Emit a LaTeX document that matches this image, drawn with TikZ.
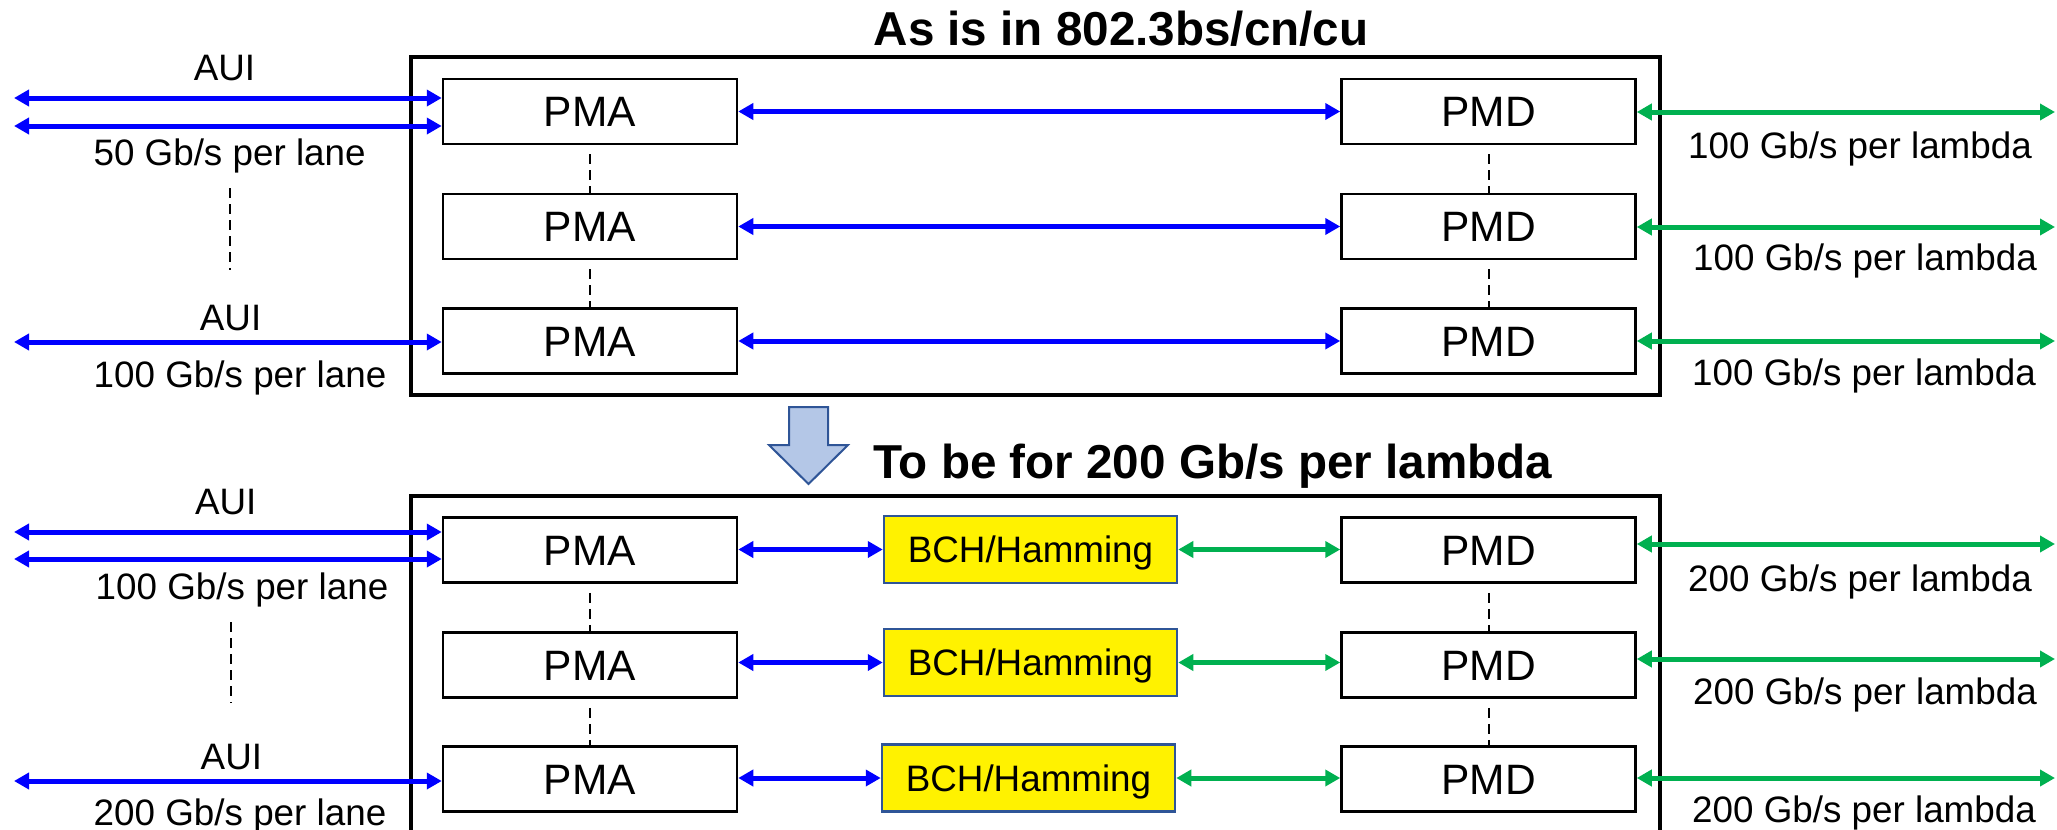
\documentclass[tikz,border=0pt]{standalone}
\usepackage{fontspec}
\setmainfont{Liberation Sans}
\usetikzlibrary{arrows.meta}
\definecolor{myblue}{RGB}{0,0,255}
\definecolor{mygreen}{RGB}{0,176,80}
\definecolor{bchborder}{RGB}{47,85,151}
\definecolor{arrowfill}{RGB}{180,199,231}
\begin{document}
\begin{tikzpicture}[x=1pt,y=-1pt,
  blk/.style={draw=black,line width=2.5pt,minimum width=294pt,minimum height=65pt,inner sep=0pt,
    font=\fontsize{42.5}{50}\selectfont,text height=30.4pt,text depth=0pt},
  bch/.style={draw=bchborder,fill=yellow,line width=2.5pt,minimum width=293pt,minimum height=67pt,inner sep=0pt,
    font=\fontsize{36.8}{44}\selectfont,text height=26.3pt,text depth=0pt},
  frame/.style={draw=black,line width=3.5pt},
  lbl/.style={font=\fontsize{36.8}{44}\selectfont,anchor=base,inner sep=0pt},
  ttl/.style={font=\bfseries\fontsize{47.6}{56}\selectfont,anchor=base,inner sep=0pt},
  barrow/.style={draw=myblue,line width=5pt,{Triangle[length=15pt,width=16pt]}-{Triangle[length=15pt,width=16pt]}},
  garrow/.style={draw=mygreen,line width=5pt,{Triangle[length=15pt,width=16pt]}-{Triangle[length=15pt,width=16pt]}},
  vdash/.style={draw=black,line width=2pt,dash pattern=on 10pt off 6pt},
]
\useasboundingbox (0,0) rectangle (2057,830);

% ---------- top section ----------
\node[ttl] (t1) at (1121,45) {As is in 802.3bs/cn/cu};
\node[frame,minimum width=1249pt,minimum height=338pt,inner sep=0pt] (outer1) at (1035.5,226) {};

\node[blk] (pma1) at (590,111.5) {PMA};
\node[blk] (pma2) at (590,226.5) {PMA};
\node[blk] (pma3) at (590,341) {PMA};
\node[blk] (pmd1) at (1488.5,111.5) {PMD};
\node[blk] (pmd2) at (1488.5,226.5) {PMD};
\node[blk] (pmd3) at (1488.5,341) {PMD};

\draw[vdash] ([yshift=-9pt]pma1.south) -- (pma2.north);
\draw[vdash] ([yshift=-9pt]pma2.south) -- (pma3.north);
\draw[vdash] ([yshift=-9pt]pmd1.south) -- (pmd2.north);
\draw[vdash] ([yshift=-9pt]pmd2.south) -- (pmd3.north);

\draw[barrow] (pma1.east) -- (pmd1.west);
\draw[barrow] (pma2.east) -- (pmd2.west);
\draw[barrow] (pma3.east) -- (pmd3.west);

\coordinate (la1) at (14,98);
\coordinate (la2) at (14,126);
\coordinate (la3) at (14,342);
\draw[barrow] (la1) -- (la1 -| pma1.west);
\draw[barrow] (la2) -- (la2 -| pma1.west);
\draw[barrow] (la3) -- (la3 -| pma3.west);

\node[lbl] (aui1) at (224.5,80) {AUI};
\node[lbl] (r50) at (229.6,165) {50 Gb/s per lane};
\coordinate (d1a) at (229.6,188);
\coordinate (d1b) at (229.6,270);
\draw[vdash] (d1a) -- (d1b);
\node[lbl] (aui2) at (230.6,330) {AUI};
\node[lbl] (r100) at (240,387) {100 Gb/s per lane};

\coordinate (rg1) at (2055,112);
\coordinate (rg2) at (2055,227);
\coordinate (rg3) at (2055,341);
\draw[garrow] (pmd1.east |- rg1) -- (rg1);
\draw[garrow] (pmd2.east |- rg2) -- (rg2);
\draw[garrow] (pmd3.east |- rg3) -- (rg3);
\node[lbl] (l1) at (1860,158) {100 Gb/s per lambda};
\node[lbl] (l2) at (1865,270) {100 Gb/s per lambda};
\node[lbl] (l3) at (1864,385) {100 Gb/s per lambda};

% ---------- transition arrow ----------
\draw[fill=arrowfill,draw=bchborder,line width=2pt,line join=miter]
  (789,407) -- (828,407) -- (828,445) -- (848,445) -- (808.5,484) -- (769,445) -- (789,445) -- cycle;
\node[ttl,anchor=base west] (t2) at (873,478) {To be for 200 Gb/s per lambda};

% ---------- bottom section ----------
\draw[frame] (411,834) -- (411,496) -- (1660,496) -- (1660,834);

\node[blk] (pma4) at (590,550) {PMA};
\node[blk] (pma5) at (590,665) {PMA};
\node[blk] (pma6) at (590,779) {PMA};
\node[bch] (bch1) at (1030.5,549.5) {BCH/Hamming};
\node[bch] (bch2) at (1030.5,662.5) {BCH/Hamming};
\node[bch] (bch3) at (1028.5,778) {BCH/Hamming};
\node[blk] (pmd4) at (1488.5,550) {PMD};
\node[blk] (pmd5) at (1488.5,665) {PMD};
\node[blk] (pmd6) at (1488.5,779) {PMD};

\draw[vdash] ([yshift=-9pt]pma4.south) -- (pma5.north);
\draw[vdash] ([yshift=-9pt]pma5.south) -- (pma6.north);
\draw[vdash] ([yshift=-9pt]pmd4.south) -- (pmd5.north);
\draw[vdash] ([yshift=-9pt]pmd5.south) -- (pmd6.north);

\draw[barrow] (pma4.east |- bch1.west) -- (bch1.west);
\draw[barrow] (pma5.east |- bch2.west) -- (bch2.west);
\draw[barrow] (pma6.east |- bch3.west) -- (bch3.west);
\draw[garrow] (bch1.east) -- (bch1.east -| pmd4.west);
\draw[garrow] (bch2.east) -- (bch2.east -| pmd5.west);
\draw[garrow] (bch3.east) -- (bch3.east -| pmd6.west);

\coordinate (lb1) at (14,532);
\coordinate (lb2) at (14,559);
\coordinate (lb3) at (14,781);
\draw[barrow] (lb1) -- (lb1 -| pma4.west);
\draw[barrow] (lb2) -- (lb2 -| pma4.west);
\draw[barrow] (lb3) -- (lb3 -| pma6.west);

\node[lbl] (aui3) at (225.8,514) {AUI};
\node[lbl] (s100) at (242,599) {100 Gb/s per lane};
\coordinate (d2a) at (230.6,622);
\coordinate (d2b) at (230.6,703);
\draw[vdash] (d2a) -- (d2b);
\node[lbl] (aui4) at (231.4,769) {AUI};
\node[lbl] (s200) at (240,825) {200 Gb/s per lane};

\coordinate (rh1) at (2055,544);
\coordinate (rh2) at (2055,659);
\coordinate (rh3) at (2055,778);
\draw[garrow] (pmd4.east |- rh1) -- (rh1);
\draw[garrow] (pmd5.east |- rh2) -- (rh2);
\draw[garrow] (pmd6.east |- rh3) -- (rh3);
\node[lbl] (m1) at (1860,591) {200 Gb/s per lambda};
\node[lbl] (m2) at (1865,704) {200 Gb/s per lambda};
\node[lbl] (m3) at (1864,822) {200 Gb/s per lambda};
\end{tikzpicture}
\end{document}
